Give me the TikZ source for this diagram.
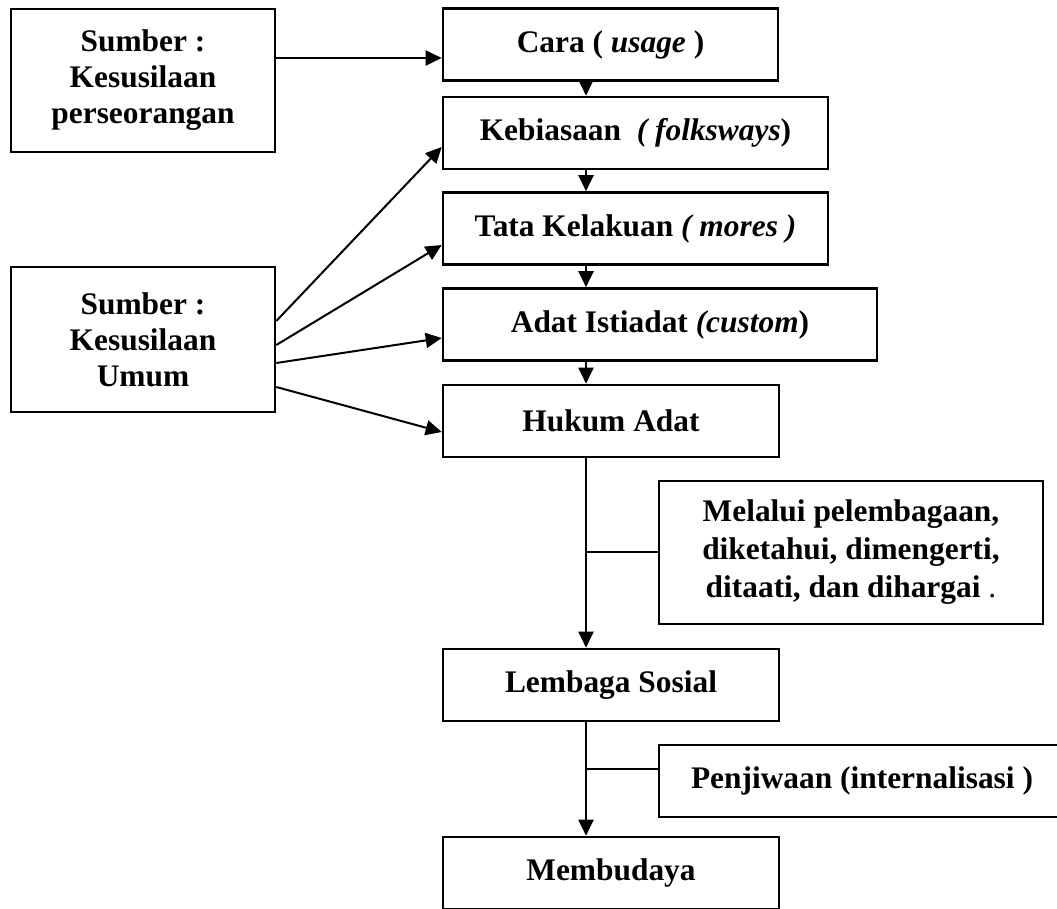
\documentclass[tikz,border=0pt]{standalone}
\usepackage{fontspec}
\setmainfont{Liberation Serif}
\usetikzlibrary{arrows.meta}

\begin{document}
\begin{tikzpicture}[
  x=0.5pt, y=-0.5pt,
  font=\fontsize{15.7}{18}\selectfont\bfseries,
  box/.style={rectangle, draw=black, line width=1.3pt, minimum width=#1,
              minimum height=36pt, align=center, inner sep=0pt},
  flow/.style={-{Triangle[length=8pt,width=7.5pt]}, line width=1pt},
  link/.style={line width=1pt}
]
\useasboundingbox (0,0) rectangle (1057,909);
% ── sources ──────────────────────────────────────────────────────────────────
\node[box=132pt, minimum height=71.5pt] (perorangan) at (143,80.5)
  {Sumber :\\Kesusilaan\\perseorangan};
\node[box=132pt, minimum height=72.5pt] (umum) at (143,339.5)
  {Sumber :\\Kesusilaan\\Umum};

% ── main column ──────────────────────────────────────────────────────────────
\node[box=167.5pt] (cara)      at (610.5,44.5) {Cara ( \textit{usage} )};
\node[box=192.5pt] (kebiasaan) at (635.5,133)  {Kebiasaan\ \ \textit{( folksways})};
\node[box=192.5pt] (tata)      at (635.5,228.5){Tata Kelakuan \textit{( mores )}};
\node[box=217pt]   (adat)      at (660,324.5)  {Adat Istiadat \textit{(custom})};
\node[box=168pt]   (hukum)     at (611,421)    {Hukum Adat};
\node[box=168pt]   (lembaga)   at (611,685)    {Lembaga Sosial};
\node[box=168pt]   (membudaya) at (611,873)    {Membudaya};

% ── side notes ───────────────────────────────────────────────────────────────
\node[box=192pt, minimum height=71.5pt] (pelembagaan) at (851,552.5)
  {Melalui pelembagaan,\\[1pt]diketahui, dimengerti,\\[1pt]ditaati, dan dihargai {\mdseries .}};
\node[box=203pt] (penjiwaan) at (862,781) {Penjiwaan (internalisasi )};

% ── flows ────────────────────────────────────────────────────────────────────
\coordinate (spine) at (586,0);
\foreach \a/\b in {cara/kebiasaan, kebiasaan/tata, tata/adat, adat/hukum,
                   hukum/lembaga, lembaga/membudaya}
  \draw[flow] (\a.south -| spine) -- (\b.north -| spine);

\coordinate (cara-in) at ([shift={(0,13.5)}]cara.west);
\draw[flow] (perorangan.east |- cara-in) -- (cara-in);
\foreach \t/\s/\e in {kebiasaan/-18.5/14, tata/5.5/16.5, adat/23.5/13.5, hukum/47.5/11}
  \draw[flow] ([shift={(0,\s)}]umum.east) -- ([shift={(0,\e)}]\t.west);

\draw[link] (pelembagaan.west) -- (pelembagaan.west -| spine);
\coordinate (penjiwaan-in) at ([shift={(0,-12)}]penjiwaan.west);
\draw[link] (penjiwaan-in) -- (penjiwaan-in -| spine);
\end{tikzpicture}
\end{document}
